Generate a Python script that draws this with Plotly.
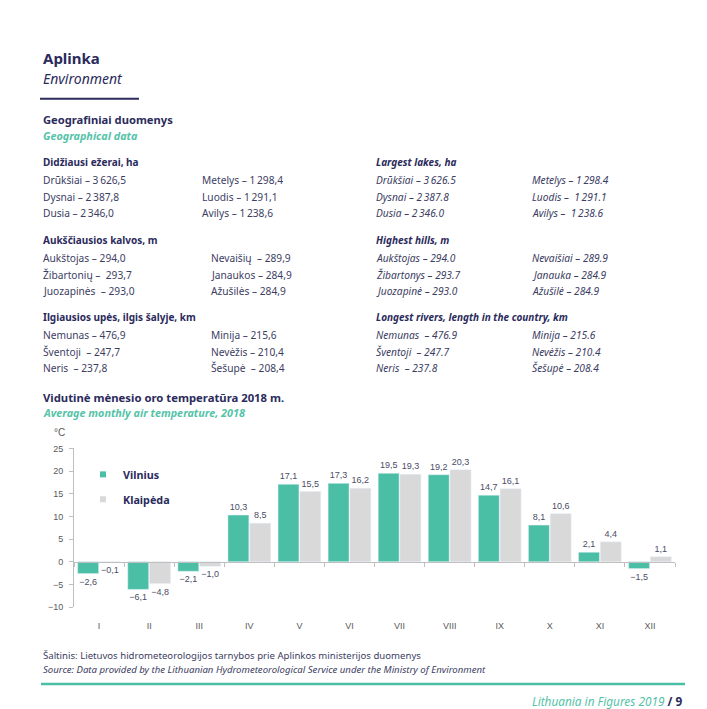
import plotly.graph_objects as go

# page offset (default body margin) and a small vertical calibration
OFF_X = 8
Y0_CAL, Y_SCALE = 11.6, 0.988
PAGE_W = 707
W, H = PAGE_W - OFF_X, 706

# ---------------- data ----------------
months = ["I", "II", "III", "IV", "V", "VI", "VII", "VIII", "IX", "X", "XI", "XII"]
vilnius = [-2.6, -6.1, -2.1, 10.3, 17.1, 17.3, 19.5, 19.2, 14.7, 8.1, 2.1, -1.5]
klaipeda = [-0.1, -4.8, -1.0, 8.5, 15.5, 16.2, 19.3, 20.3, 16.1, 10.6, 4.4, 1.1]
y_ticks = [-10, -5, 0, 5, 10, 15, 20, 25]

lakes_lt = ["Drūkšiai – 3\u2009626,5", "Dysnai – 2\u2009387,8", "Dusia – 2\u2009346,0",
            "Metelys – 1\u2009298,4", "Luodis – 1\u2009291,1", "Avilys – 1\u2009238,6"]
hills_lt = ["Aukštojas – 294,0", "Žibartonių –  293,7", "Juozapinės  – 293,0",
            "Nevaišių  – 289,9", "Janaukos – 284,9", "Ažušilės – 284,9"]
rivers_lt = ["Nemunas – 476,9", "Šventoji  – 247,7", "Neris  – 237,8",
             "Minija – 215,6", "Nevėžis – 210,4", "Šešupė  – 208,4"]
lakes_en = ["Drūkšiai – 3\u2009626.5", "Dysnai – 2\u2009387.8", "Dusia – 2\u2009346.0",
            "Metelys – 1\u2009298.4", "Luodis –  1\u2009291.1", "Avilys –  1\u2009238.6"]
hills_en = ["Aukštojas – 294.0", "Žibartonys – 293.7", "Juozapinė – 293.0",
            "Nevaišiai – 289.9", "Janauka – 284.9", "Ažušilė – 284.9"]
rivers_en = ["Nemunas  – 476.9", "Šventoji  – 247.7", "Neris  – 237.8",
             "Minija – 215.6", "Nevėžis – 210.4", "Šešupė – 208.4"]

# ---------------- style ----------------
NAVY = "#2b2b5c"
BODY = "#3c3d63"
TEAL_TXT = "#55c3a8"
TEAL = "#4bbfa6"
GRAY = "#d9d9d9"
AX = "#bfbfbf"
FONT = "Noto Sans"
CH_FONT = "Liberation Sans"


def fmt(v):
    return f"{v:.1f}".replace(".", ",").replace("-", "\u2212")


def px(x):
    return (x - OFF_X) / W


def py(y):
    return 1 - ((y - Y0_CAL) / Y_SCALE) / H


annotations = []


def txt(x, y, text, size=10, color=BODY, xanchor="left", family=FONT):
    annotations.append(dict(x=px(x), y=py(y), xref="paper", yref="paper", text=text,
                            showarrow=False, xanchor=xanchor, yanchor="middle",
                            font=dict(size=size, color=color, family=family)))


fig = go.Figure()

fig.add_trace(go.Bar(x=months, y=vilnius, name="Vilnius", marker_color=TEAL,
                     text=[fmt(v) for v in vilnius], textposition="outside",
                     textfont=dict(size=9, color="#4a4c66", family=CH_FONT),
                     cliponaxis=False, showlegend=False))
fig.add_trace(go.Bar(x=months, y=klaipeda, name="Klaipėda", marker_color=GRAY,
                     text=[fmt(v) for v in klaipeda], textposition="outside",
                     textfont=dict(size=9, color="#4a4c66", family=CH_FONT),
                     cliponaxis=False, showlegend=False))
# legend entries
fig.add_trace(go.Scatter(x=[months[0]], y=[None], mode="markers", name="<b>Vilnius</b>",
                         marker=dict(symbol="square", size=6, color=TEAL), legend="legend"))
fig.add_trace(go.Scatter(x=[months[0]], y=[None], mode="markers", name="<b>Klaipėda</b>",
                         marker=dict(symbol="square", size=6, color=GRAY), legend="legend2"))
# trace for the zero-line axis
fig.add_trace(go.Scatter(x=months, y=[None] * len(months), xaxis="x2", yaxis="y",
                         mode="markers", showlegend=False, hoverinfo="skip"))

x0, x1 = 74, 675
y_top, y_bot = 448, 607
ymin, ymax = -10, 25
zero_pos = py(y_bot - (0 - ymin) / (ymax - ymin) * (y_bot - y_top))

fig.update_layout(
    width=W, height=H, margin=dict(l=0, r=0, t=0, b=0),
    paper_bgcolor="white", plot_bgcolor="white",
    barmode="group", bargap=0.13, bargroupgap=0.04,
    uniformtext=dict(minsize=9, mode="show"),
    xaxis=dict(domain=[px(x0), px(x1)], type="category", categoryarray=months,
               range=[-0.5, 11.5], showline=False, ticks="", showgrid=False,
               ticklabelstandoff=12,
               tickfont=dict(size=9, color="#595959", family=CH_FONT)),
    xaxis2=dict(overlaying="x", anchor="free", position=zero_pos, domain=[px(x0), px(x1)],
                type="category", categoryarray=months, range=[-0.5, 11.5],
                showline=True, linecolor=AX, linewidth=1, ticks="outside",
                tickson="boundaries", ticklen=4, tickcolor=AX, showticklabels=False,
                showgrid=False, side="bottom"),
    yaxis=dict(domain=[py(y_bot), py(y_top)], range=[ymin, ymax], tickvals=y_ticks,
               showline=True, linecolor=AX, linewidth=1, ticks="outside", ticklen=4,
               tickcolor=AX, showgrid=False, zeroline=False, ticklabelstandoff=4,
               tickfont=dict(size=9, color="#595959", family=CH_FONT)),
    legend=dict(x=px(83), y=py(474), xanchor="left", yanchor="middle",
                bgcolor="rgba(0,0,0,0)", font=dict(size=10.8, color=NAVY, family=FONT)),
    legend2=dict(x=px(83), y=py(499), xanchor="left", yanchor="middle",
                 bgcolor="rgba(0,0,0,0)", font=dict(size=10.8, color=NAVY, family=FONT)),
    showlegend=True,
)

# ---------------- page texts ----------------
txt(41, 57, "<b>Aplinka</b>", 15, NAVY)
txt(41, 77, "<i>Environment</i>", 14, NAVY)
txt(41, 118, "<b>Geografiniai duomenys</b>", 11.2, NAVY)
txt(41, 134, "<b><i>Geographical data</i></b>", 10.8, TEAL_TXT)

sections_lt = [("Didžiausi ežerai, ha", lakes_lt, 200, 161),
               ("Aukščiausios kalvos, m", hills_lt, 209, 239),
               ("Ilgiausios upės, ilgis šalyje, km", rivers_lt, 209, 316)]
sections_en = [("Largest lakes, ha", lakes_en, 161),
               ("Highest hills, m", hills_en, 239),
               ("Longest rivers, length in the country, km", rivers_en, 316)]
row_dy = [18, 35, 51]
for head, items, col2, y0 in sections_lt:
    txt(41, y0, f"<b>{head}</b>", 10, NAVY)
    for i in range(3):
        txt(41, y0 + row_dy[i], items[i], 10.2, BODY)
        txt(col2, y0 + row_dy[i], items[i + 3], 10.2, BODY)
for head, items, y0 in sections_en:
    txt(374, y0, f"<b><i>{head}</i></b>", 10, NAVY)
    for i in range(3):
        txt(374, y0 + row_dy[i], f"<i>{items[i]}</i>", 10.2, BODY)
        txt(530, y0 + row_dy[i], f"<i>{items[i + 3]}</i>", 10.2, BODY)

txt(41, 397, "<b>Vidutinė mėnesio oro temperatūra 2018 m.</b>", 11.3, NAVY)
txt(41, 412, "<b><i>Average monthly air temperature, 2018</i></b>", 10.8, TEAL_TXT)
txt(52, 432, "°C", 10, "#595959", family=CH_FONT)

txt(41, 656, "Šaltinis: Lietuvos hidrometeorologijos tarnybos prie Aplinkos ministerijos duomenys",
    9.6, BODY)
txt(41, 670, "<i>Source: Data provided by the Lithuanian Hydrometeorological Service under the "
             "Ministry of Environment</i>", 9.6, BODY)
txt(684, 701, f"<i>Lithuania in Figures 2019 </i><b><span style='color:{NAVY}'>/ 9</span></b>",
    11.8, TEAL_TXT, xanchor="right")

fig.update_layout(
    annotations=annotations,
    shapes=[
        dict(type="line", xref="paper", yref="paper", x0=px(40), x1=px(139), y0=py(97.5),
             y1=py(97.5), line=dict(color=NAVY, width=2)),
        dict(type="line", xref="paper", yref="paper", x0=px(41), x1=px(685), y0=py(684),
             y1=py(684), line=dict(color=TEAL, width=2.5)),
    ],
)

fig.write_html("out.html")
